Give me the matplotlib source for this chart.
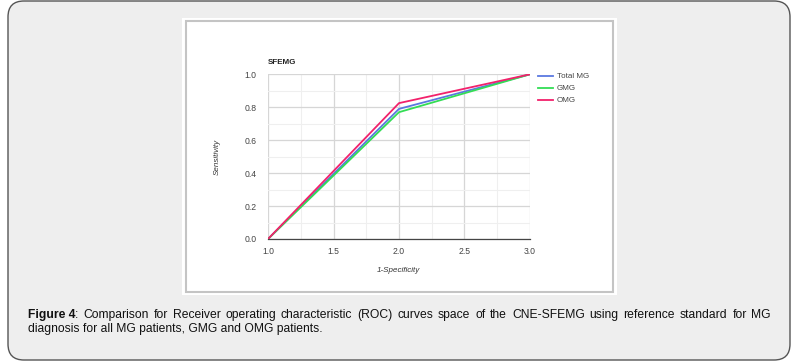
import matplotlib
matplotlib.use("Agg")
import matplotlib.pyplot as plt
from matplotlib.patches import FancyBboxPatch, Rectangle
import numpy as np

# ---- data ----
x_vals = [1.0, 2.0, 3.0]
total_mg = [0.0, 0.79, 1.0]
gmg = [0.0, 0.77, 1.0]
omg = [0.0, 0.825, 1.0]
series_names = ["Total MG", "GMG", "OMG"]
x_ticks = [1.0, 1.5, 2.0, 2.5, 3.0]
y_ticks = [0.0, 0.2, 0.4, 0.6, 0.8, 1.0]
chart_title = "SFEMG"
x_label = "1-Specificity"
y_label = "Sensitivity"
caption_bold = "Figure 4"
caption_line1 = ": Comparison for Receiver operating characteristic (ROC) curves space of the CNE-SFEMG using reference standard for MG"
caption_line2 = "diagnosis for all MG patients, GMG and OMG patients."

colors = ["#5a78e0", "#33dd55", "#f2216b"]

W, H = 797, 364
fig = plt.figure(figsize=(W / 100, H / 100), dpi=100)
fig.patch.set_facecolor("white")

def fx(px):
    return px / W

def fy(py):
    return 1 - py / H

# outer rounded frame
frame = FancyBboxPatch((fx(8), fy(360)), fx(782), (359 / H), boxstyle="round,pad=0,rounding_size=0.02",
                       transform=fig.transFigure, facecolor="#eeeeee", edgecolor="#555555",
                       linewidth=1.0, mutation_aspect=W / H, zorder=-10)
fig.add_artist(frame)

# inner chart image: white margin + gray border
fig.add_artist(Rectangle((fx(182), fy(295)), fx(435), 277 / H, transform=fig.transFigure,
                         facecolor="white", edgecolor="none", zorder=-9))
fig.add_artist(Rectangle((fx(185.5), fy(291.5)), fx(427), 271 / H, transform=fig.transFigure,
                         facecolor="white", edgecolor="#c4c4c4", linewidth=1.5, zorder=-8))

# axes
ax = fig.add_axes([fx(268), fy(239), fx(530 - 268), (239 - 74.3) / H])
ax.set_zorder(5)
ax.set_facecolor("white")
ax.plot(x_vals, total_mg, color=colors[0], lw=1.3, label=series_names[0], zorder=3)
ax.plot(x_vals, gmg, color=colors[1], lw=1.3, label=series_names[1], zorder=3)
ax.plot(x_vals, omg, color=colors[2], lw=1.3, label=series_names[2], zorder=4)

ax.set_xlim(1.0, 3.0)
ax.set_ylim(0.0, 1.0)
ax.set_xticks(x_ticks)
ax.set_yticks(y_ticks)
ax.set_xticklabels([f"{v:.1f}" for v in x_ticks])
ax.set_yticklabels([f"{v:.1f}" for v in y_ticks])
ax.set_xticks(np.arange(1.25, 3.0, 0.5), minor=True)
ax.set_yticks(np.arange(0.1, 1.0, 0.2), minor=True)
ax.grid(True, which="major", color="#d6d6d6", lw=0.9)
ax.grid(True, which="minor", color="#efefef", lw=0.8)
ax.set_axisbelow(True)
ax.tick_params(which="both", length=0, labelsize=6.2, labelcolor="#444444")
ax.tick_params(axis="x", pad=6)
ax.tick_params(axis="y", pad=8)
for lab in ax.get_xticklabels() + ax.get_yticklabels():
    lab.set_family("Liberation Sans")
for k in ["top", "right", "left"]:
    ax.spines[k].set_visible(False)
ax.spines["bottom"].set_color("#444444")
ax.spines["bottom"].set_linewidth(0.9)

fig.text(fx(268), fy(62), chart_title, fontsize=5.8, fontweight="bold", color="#222222",
         ha="left", va="center", family="Liberation Sans")
fig.text(fx(398), fy(270), x_label, fontsize=5.8, style="italic", color="#333333",
         ha="center", va="center", family="Liberation Sans")
fig.text(fx(217), fy(157), y_label, fontsize=5.8, style="italic", color="#333333",
         ha="center", va="center", rotation=90, family="Liberation Sans")

# legend
leg_y = [76, 88, 100]
for name, c, yy in zip(series_names, colors, leg_y):
    fig.add_artist(plt.Line2D([fx(538), fx(553)], [fy(yy), fy(yy)], transform=fig.transFigure,
                              color=c, lw=1.3))
    fig.text(fx(557), fy(yy), name, fontsize=5.8, color="#444444", ha="left", va="center",
             family="Liberation Sans")

# caption, line 1 justified
fig.canvas.draw()
renderer = fig.canvas.get_renderer()
fs = 8.7
left, right = 27.5, 771
y1, y2 = 315, 329
words = caption_line1.strip().split(" ")
tb = fig.text(fx(left), fy(y1), caption_bold, fontsize=fs, fontweight="bold", family="Liberation Sans",
              ha="left", va="center", color="#111111")
tcolon = fig.text(0, fy(y1), ":", fontsize=fs, family="Liberation Sans", ha="left", va="center", color="#111111")
fig.canvas.draw()
wb = tb.get_window_extent(renderer).width
tcolon.set_x(fx(left + wb))
wcolon = tcolon.get_window_extent(renderer).width
rest_words = words[1:]
wtexts = []
for w in rest_words:
    t = fig.text(0, fy(y1), w, fontsize=fs, family="Liberation Sans", ha="left", va="center", color="#111111")
    wtexts.append(t)
fig.canvas.draw()
widths = [t.get_window_extent(renderer).width for t in wtexts]
start = left + wb + wcolon
total_w = sum(widths)
gap = (right - start - total_w) / len(wtexts)
xpos = start + gap
for t, w in zip(wtexts, widths):
    t.set_x(fx(xpos))
    xpos += w + gap

fig.text(fx(left), fy(y2), caption_line2, fontsize=fs, family="Liberation Sans", ha="left", va="center",
         color="#111111")

fig.savefig("out.png", dpi=100, facecolor=fig.get_facecolor())
